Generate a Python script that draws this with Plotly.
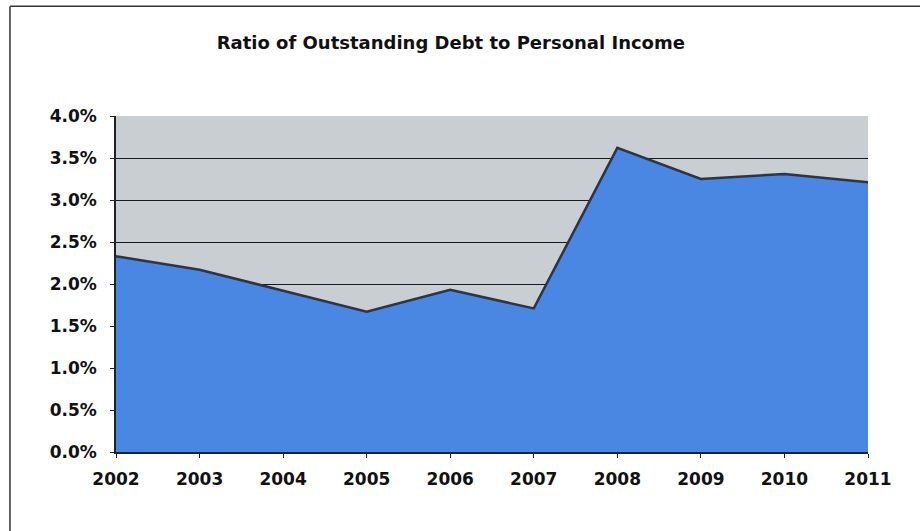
import plotly.graph_objects as go

years = [2002, 2003, 2004, 2005, 2006, 2007, 2008, 2009, 2010, 2011]
debt_ratio = [2.33, 2.17, 1.92, 1.67, 1.93, 1.71, 3.62, 3.25, 3.31, 3.21]
y_ticks = [0.0, 0.5, 1.0, 1.5, 2.0, 2.5, 3.0, 3.5, 4.0]
y_tick_labels = [f"{v:.1f}%" for v in y_ticks]
title_text = "Ratio of Outstanding Debt to Personal Income"

FONT = "DejaVu Sans, Arial, sans-serif"

fig = go.Figure()
fig.add_trace(go.Scatter(
    x=years,
    y=debt_ratio,
    mode="lines",
    fill="tozeroy",
    fillcolor="#4a87e2",
    line=dict(color="#2f3440", width=2.5),
    hoverinfo="x+y",
    showlegend=False,
))

fig.update_layout(
    width=920,
    height=531,
    margin=dict(l=116, r=52, t=116, b=79),
    paper_bgcolor="white",
    plot_bgcolor="#c9ced3",
    title=dict(
        text=f"<b>{title_text}</b>",
        x=0.49,
        xanchor="center",
        y=0.92,
        yanchor="middle",
        font=dict(family=FONT, size=18, color="#111"),
    ),
    xaxis=dict(
        range=[2002, 2011],
        tickmode="array",
        tickvals=years,
        ticktext=[f"<b>{y}</b>" for y in years],
        showgrid=False,
        zeroline=False,
        showline=True,
        linecolor="#222",
        linewidth=1.5,
        ticks="outside",
        ticklen=4,
        tickcolor="#222",
        ticklabelstandoff=7,
        tickfont=dict(family=FONT, size=17, color="#111"),
    ),
    yaxis=dict(
        range=[0, 4.0],
        tickmode="array",
        tickvals=y_ticks,
        ticktext=[f"<b>{t}</b>" for t in y_tick_labels],
        showgrid=True,
        gridcolor="#1a1a1a",
        gridwidth=1,
        zeroline=False,
        showline=True,
        linecolor="#222",
        linewidth=1.5,
        ticks="outside",
        ticklen=4,
        tickcolor="#222",
        ticklabelstandoff=10,
        tickfont=dict(family=FONT, size=17, color="#111"),
    ),
)

# Frame around the chart: left edge and top edge
fig.add_shape(type="line", xref="paper", yref="paper",
              x0=-0.141, x1=-0.141, y0=-0.3, y1=1.327,
              line=dict(color="#333", width=1.5))
fig.add_shape(type="line", xref="paper", yref="paper",
              x0=-0.141, x1=1.1, y0=1.327, y1=1.327,
              line=dict(color="#333", width=1.5))

fig.write_html("out.html")
